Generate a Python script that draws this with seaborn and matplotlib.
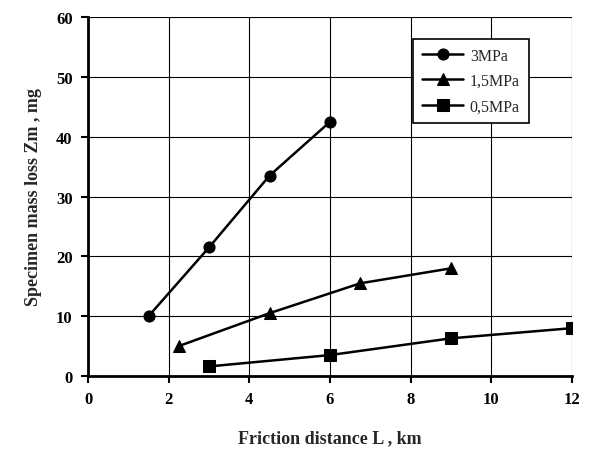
import matplotlib
matplotlib.use("Agg")
import matplotlib.pyplot as plt
import seaborn as sns
import pandas as pd

x_3 = [1.5, 3.0, 4.5, 6.0]
y_3 = [10.0, 21.5, 33.5, 42.5]
x_15 = [2.25, 4.5, 6.75, 9.0]
y_15 = [5.0, 10.5, 15.5, 18.0]
x_05 = [3.0, 6.0, 9.0, 12.0]
y_05 = [1.6, 3.5, 6.3, 8.0]
series_names = ["3MPa", "1,5MPa", "0,5MPa"]
x_ticks = [0, 2, 4, 6, 8, 10, 12]
y_ticks = [0, 10, 20, 30, 40, 50, 60]

df = pd.concat([
    pd.DataFrame({"L": x_3, "Z": y_3, "s": series_names[0]}),
    pd.DataFrame({"L": x_15, "Z": y_15, "s": series_names[1]}),
    pd.DataFrame({"L": x_05, "Z": y_05, "s": series_names[2]}),
])

sns.set_theme(style="white")
plt.rcParams["font.family"] = ["Liberation Serif", "DejaVu Serif"]

fig = plt.figure(figsize=(6.13, 4.64), dpi=100)
ax = fig.add_axes([0.1436, 0.1875, 0.7896, 0.7735])

sns.lineplot(data=df, x="L", y="Z", hue="s", style="s",
             palette=["black"] * 3, markers=["o", "^", "s"], dashes=False,
             markersize=8, linewidth=1.8, markeredgecolor="black",
             sort=False, ax=ax)

ax.set_xlim(0, 12)
ax.set_ylim(0, 60)
ax.set_xticks(x_ticks)
ax.set_yticks(y_ticks)
ax.grid(True, color="black", linewidth=0.8)
ax.set_axisbelow(True)
for side in ["top", "right"]:
    ax.spines[side].set_visible(False)
for side in ["left", "bottom"]:
    ax.spines[side].set_linewidth(2)
    ax.spines[side].set_color("black")
ax.tick_params(axis="both", direction="out", length=5, width=1.5, colors="black",
               labelsize=12, pad=6, bottom=True, left=True)
for lab in ax.get_xticklabels() + ax.get_yticklabels():
    lab.set_fontweight("bold")

ax.set_xlabel("Friction distance L , km", fontsize=13, fontweight="bold", labelpad=16)
ax.set_ylabel("Specimen mass loss Zm , mg", fontsize=13, fontweight="bold", labelpad=10)

leg = ax.legend(title=None, loc="upper left", bbox_to_anchor=(0.655, 0.962),
                frameon=True, fancybox=False, edgecolor="black", framealpha=1,
                prop={"size": 11.5}, handlelength=2.6, handletextpad=0.4,
                borderpad=0.55, labelspacing=0.6)
leg.get_frame().set_linewidth(1.2)

fig.savefig("out.png", dpi=100)
